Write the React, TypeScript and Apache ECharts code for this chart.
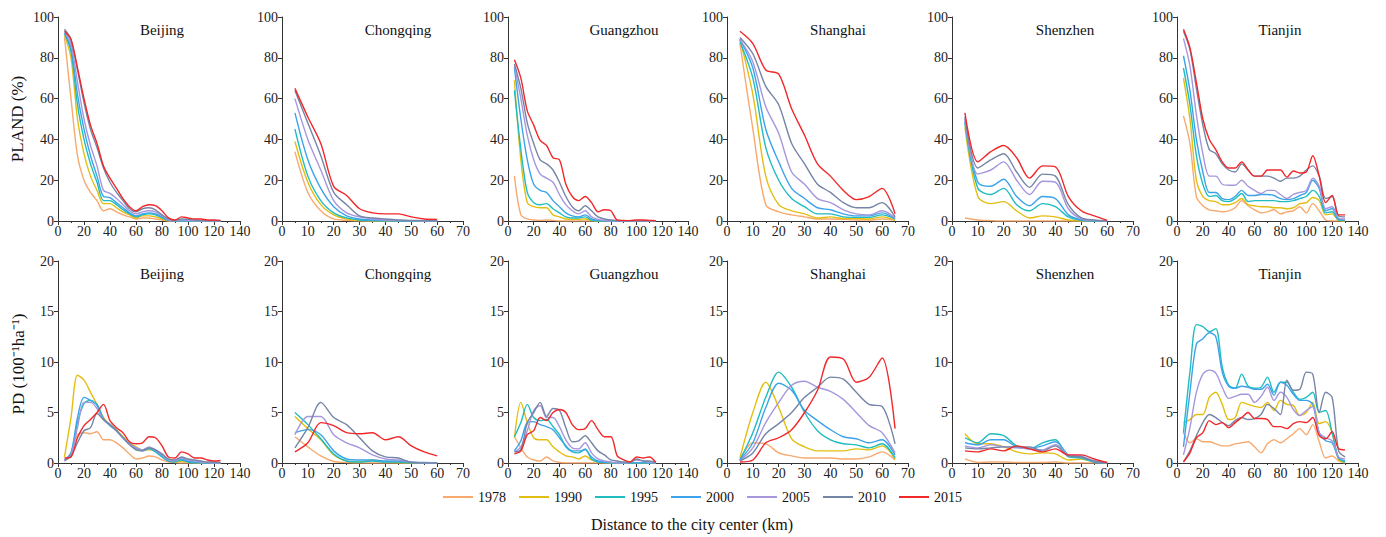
import React, { useEffect, useRef } from "react";
import * as echarts from "echarts";

const YEARS = ["1978", "1990", "1995", "2000", "2005", "2010", "2015"];
const COLORS = ["#F7A96E", "#E3BE12", "#1FBCC0", "#3CA3EA", "#A697DD", "#7585A5", "#F0282A"];
const CITIES = ["Beijing", "Chongqing", "Guangzhou", "Shanghai", "Shenzhen", "Tianjin"];
const X_MAX = [140, 70, 140, 70, 70, 140];
const X_INTERVAL = [20, 10, 20, 10, 10, 20];

const DIST_BEIJING = [5, 10, 15, 20, 25, 30, 35, 40, 45, 50, 55, 60, 65, 70, 75, 80, 85, 90, 95, 100, 105, 110, 115, 120, 125];
const DIST_CHONGQING = [5, 10, 15, 20, 25, 30, 35, 40, 45, 50, 55, 60];
const DIST_GUANGZHOU = [5, 10, 15, 20, 25, 30, 35, 40, 45, 50, 55, 60, 65, 70, 75, 80, 85, 90, 95, 100, 105, 110, 115];
const DIST_SHANGHAI = [5, 10, 15, 20, 25, 30, 35, 40, 45, 50, 55, 60, 65];
const DIST_SHENZHEN = [5, 10, 15, 20, 25, 30, 35, 40, 45, 50, 55, 60];
const DIST_TIANJIN = [5, 10, 15, 20, 25, 30, 35, 40, 45, 50, 55, 60, 65, 70, 75, 80, 85, 90, 95, 100, 105, 110, 115, 120, 125, 130];

// PLAND (%) — rows: 1978, 1990, 1995, 2000, 2005, 2010, 2015
const BEIJING_PLAND = [
  [90, 60, 32, 20, 14, 10, 5, 6, 4.5, 3, 2, 1, 1.5, 1.5, 1, 0.5, 0, 0, 0, 0, 0, 0, 0, 0, 0],
  [91, 80, 50, 33, 22, 15, 8.5, 8.5, 6.5, 4.5, 3, 1.5, 2.5, 2.5, 2, 1, 0.1, 0, 0, 0, 0, 0, 0, 0, 0],
  [92, 83, 57, 40, 28, 19, 10, 10, 8, 5.5, 3.5, 2, 3, 3.5, 3, 1.5, 0.2, 0, 0, 0, 0, 0, 0, 0, 0],
  [92, 85, 62, 45, 32, 22, 12, 11.5, 9, 6.5, 4, 2.5, 3.5, 4, 3.5, 2, 0.3, 0, 0, 0, 0, 0, 0, 0, 0],
  [93, 87, 68, 50, 37, 27, 15, 13.5, 11, 8, 5, 3.5, 4.5, 5, 4.5, 2.5, 0.5, 0.2, 0.5, 0.3, 0.1, 0, 0, 0, 0],
  [94, 89, 74, 58, 45, 36, 26, 19, 14, 10, 6, 4.5, 6, 6.5, 5.5, 3, 1, 0.3, 1, 0.8, 0.5, 0.3, 0.2, 0.1, 0],
  [93, 89, 75, 60, 47, 38, 27, 21, 16, 11, 7, 5, 7, 8, 7.5, 5, 1.5, 0.5, 2, 1.5, 1, 1, 0.5, 0.5, 0.3],
];
const CHONGQING_PLAND = [
  [34, 14, 5, 1, 0.3, 0, 0, 0, 0, 0, 0, 0],
  [39, 19, 8, 3, 1, 0.3, 0, 0, 0, 0, 0, 0],
  [45, 22, 10, 4, 1.5, 0.5, 0.2, 0, 0, 0, 0, 0],
  [53, 30, 16, 7, 2.5, 1, 0.5, 0.3, 0, 0, 0, 0],
  [60, 40, 25, 10, 4, 2, 1, 0.5, 0.3, 0.2, 0, 0],
  [64, 48, 32, 14, 8, 2.5, 1.5, 1, 0.5, 0.3, 0.2, 0],
  [65, 51, 38, 17, 12.5, 6, 4, 3.5, 3.5, 2, 1, 0.8],
];
const GUANGZHOU_PLAND = [
  [22, 3, 1, 0.5, 0.3, 0.5, 0.3, 0, 0, 0, 0, 0, 0, 0, 0, 0, 0, 0, 0, 0, 0, 0, 0],
  [69, 30, 9, 7, 6.5, 6.5, 3, 2, 1, 0.8, 0.8, 1, 0.3, 0, 0, 0, 0, 0, 0, 0, 0, 0, 0],
  [64, 35, 14, 9, 8, 8.5, 6, 4, 2, 1.5, 1.5, 2, 0.5, 0, 0, 0, 0, 0, 0, 0, 0, 0, 0],
  [75, 50, 30, 18, 15, 14, 10, 7, 4, 2.5, 2, 3, 1, 0.3, 0, 0, 0, 0, 0, 0, 0, 0, 0],
  [76, 60, 42, 30, 23, 21, 19, 13, 8, 5, 3.5, 5, 2, 0.8, 0.3, 0, 0, 0, 0, 0, 0, 0, 0],
  [77, 65, 48, 38, 30, 28, 25, 19, 12, 7, 5, 7.5, 5, 2, 1, 0.5, 0.2, 0, 0, 0, 0, 0, 0],
  [79, 70, 54, 47, 39.5, 37, 31, 30, 18, 12, 10, 12, 9, 4.5, 5.5, 5, 0.5, 0.3, 0.2, 0.5, 0.5, 0.3, 0.1],
];
const SHANGHAI_PLAND = [
  [87, 45, 8, 4.5, 3, 2, 1, 1, 0.8, 0.5, 0.5, 1, 0.3],
  [89, 62, 22, 8, 5, 3.5, 1.5, 2, 1.2, 1.2, 1, 2, 0.5],
  [88, 70, 36, 20, 11, 7, 3.5, 3.5, 2, 1.8, 1.8, 3, 1],
  [89, 75, 45, 29, 16, 11, 6.5, 5.5, 3.5, 2.5, 2.5, 4, 1],
  [89, 78, 56, 43, 24, 18, 11, 9, 5.5, 3.5, 3, 5, 1.5],
  [90, 82, 66, 57, 38, 28, 18, 14, 9, 6.5, 6.5, 9, 2],
  [93, 87, 74, 72, 55, 42, 28, 22, 15, 10.5, 12, 16, 3.5],
];
const SHENZHEN_PLAND = [
  [1.5, 0.5, 0.2, 0, 0, 0, 0, 0, 0, 0, 0, 0],
  [46, 12, 8.5, 9.5, 5, 1.5, 2.5, 2, 0.5, 0, 0, 0],
  [48, 16, 13, 16, 8, 5, 8.5, 7, 2, 0.3, 0, 0],
  [49, 19, 17, 20.5, 12, 7.5, 12, 11, 3, 0.5, 0, 0],
  [50, 23, 25, 29, 20, 13, 19.5, 19, 6, 1, 0.3, 0],
  [51, 26, 30, 33, 24, 16.5, 23, 22, 8, 1.5, 0.5, 0],
  [53, 29, 34, 37, 31, 21, 27, 26.5, 12, 5, 2.5, 0.3],
];
const TIANJIN_PLAND = [
  [51.5, 38, 12, 7.5, 5.5, 5, 4.5, 5, 6.5, 10, 7.5, 5.5, 4, 4.5, 5.5, 3.5, 4.5, 5, 7, 4, 8.5, 5, 0.5, 0, 0, 0],
  [70, 50, 20, 12, 10, 9.5, 8, 8, 9, 11, 8, 7.5, 7, 7, 6.5, 6.5, 6, 6.5, 8.5, 9, 11.5, 10, 3, 3.5, 0.3, 0],
  [75, 57, 32, 18, 12, 12.5, 10, 9.5, 11, 13.5, 9.5, 10, 10, 10, 10, 9.5, 9.5, 10, 11, 12, 15, 12, 4, 4.5, 0.5, 0.3],
  [81, 64, 40, 24, 14, 14, 11, 10.5, 12, 15, 12.5, 12.5, 13, 13, 12.5, 11, 10.5, 11, 12.5, 14, 20, 16, 5, 6, 1, 0.5],
  [89.5, 76, 52, 33, 22, 22, 18, 17.5, 17.5, 20, 17, 15, 13.5, 15, 15, 13, 11, 13, 14, 15, 21, 17, 6, 7, 1.5, 1],
  [93, 84, 65, 47, 35, 33, 28, 25, 24, 28, 25, 22, 22, 22, 21, 19.5, 21, 21, 22, 25, 27, 22, 11, 12, 2.5, 2],
  [94, 85, 68, 50, 40, 35, 29, 26, 26, 29, 25, 22, 22, 25, 25, 25, 21.5, 24.5, 23.5, 24, 32, 22, 9, 12.5, 3, 3],
];

// PD (100^-1 ha^-1)
const BEIJING_PD = [
  [0.3, 1, 2.8, 3, 2.9, 3.1, 2.3, 2.3, 2, 1.5, 0.9, 0.4, 0.5, 0.7, 0.6, 0.3, 0.1, 0.05, 0, 0, 0, 0, 0, 0, 0],
  [0.6, 4.5, 8.7, 8.2, 7, 5.8, 4.5, 3.8, 3.3, 2.6, 2, 1.6, 1.3, 1.3, 1.2, 0.8, 0.3, 0.1, 0.2, 0.1, 0.05, 0, 0, 0, 0],
  [0.3, 0.9, 4, 5.9, 6.2, 5.8, 4.4, 3.7, 3.2, 2.5, 1.9, 1.4, 1.2, 1.4, 1.1, 0.6, 0.2, 0.1, 0.3, 0.1, 0, 0, 0, 0, 0],
  [0.3, 1, 4.5, 6.5, 6.2, 5.7, 4.3, 3.8, 3.2, 2.5, 1.9, 1.5, 1.3, 1.5, 1.2, 0.7, 0.3, 0.2, 0.4, 0.2, 0.1, 0.05, 0, 0, 0],
  [0.3, 0.8, 3.5, 6, 6, 5.4, 4.3, 3.8, 3.2, 2.5, 1.9, 1.5, 1.3, 1.6, 1.3, 0.8, 0.3, 0.2, 0.5, 0.3, 0.2, 0.1, 0.05, 0, 0],
  [0.2, 0.7, 2, 3.2, 3.5, 4.9, 4.3, 3.8, 3.2, 2.5, 1.8, 1.3, 1.2, 1.5, 1.3, 0.9, 0.4, 0.3, 0.6, 0.4, 0.3, 0.2, 0.1, 0.1, 0.05],
  [0.5, 0.6, 2.5, 3.7, 4.3, 5, 5.8, 4.2, 3.5, 3, 2.1, 1.9, 2, 2.6, 2.5, 1.7, 0.6, 0.5, 1.1, 0.9, 0.5, 0.5, 0.3, 0.2, 0.25],
];
const CHONGQING_PD = [
  [2.6, 1.6, 0.7, 0.15, 0.05, 0, 0, 0, 0, 0, 0, 0],
  [4.6, 3.4, 2.3, 0.8, 0.2, 0.1, 0.3, 0.1, 0.05, 0, 0, 0],
  [5, 3.8, 2.4, 0.9, 0.2, 0.1, 0.2, 0.1, 0.1, 0, 0, 0],
  [3, 3.3, 2.8, 1.2, 0.4, 0.3, 0.3, 0.2, 0.2, 0.1, 0.05, 0],
  [2.8, 4.6, 4.6, 2.8, 2, 1.5, 0.8, 0.4, 0.3, 0.1, 0, 0],
  [1.5, 3.5, 6, 4.5, 3.8, 2.5, 1.2, 0.6, 0.5, 0.05, 0, 0],
  [1.1, 2, 4, 3.7, 3, 2.9, 3, 2.3, 2.6, 1.7, 1.1, 0.7],
];
const GUANGZHOU_PD = [
  [2.6, 1.5, 0.6, 0.3, 0.2, 0.6, 0.2, 0.05, 0, 0, 0, 0, 0, 0, 0, 0, 0, 0, 0, 0, 0, 0, 0],
  [2.5, 6, 4, 2.5, 2.3, 2.3, 1.6, 1.1, 0.7, 0.6, 0.4, 0.7, 0.3, 0.1, 0.05, 0, 0, 0, 0, 0, 0, 0, 0],
  [2.6, 4, 5.8, 4.5, 4.2, 4.3, 3.6, 2.8, 1.6, 1.1, 1, 1.4, 0.4, 0.1, 0.05, 0, 0, 0, 0, 0, 0, 0, 0],
  [1.2, 2.2, 4, 4.1, 3.8, 3.6, 3.3, 2.5, 1.7, 1.2, 1.2, 1.3, 0.6, 0.2, 0.1, 0.05, 0, 0, 0, 0, 0, 0, 0],
  [1.1, 1.6, 3.2, 5.2, 5.7, 4.5, 4.5, 3.6, 2.3, 1.5, 1.4, 2, 1, 0.4, 0.2, 0.1, 0, 0, 0.1, 0.3, 0.2, 0.1, 0],
  [1.1, 1.3, 4, 5, 6, 4.6, 5.4, 5.2, 3.5, 2.1, 2.2, 2.7, 2, 1.2, 0.8, 0.3, 0.2, 0.1, 0.1, 0.4, 0.2, 0.2, 0.05],
  [0.9, 1.2, 2.8, 3.2, 4.5, 4.2, 5, 5.3, 5, 3.8, 3.3, 3.4, 4.2, 3.3, 2.6, 2.6, 0.7, 0.3, 0.1, 0.6, 0.5, 0.6, 0.05],
];
const SHANGHAI_PD = [
  [0.3, 2, 1.9, 1, 0.7, 0.5, 0.5, 0.5, 0.4, 0.4, 0.6, 1.1, 0.3],
  [0.5, 5, 8, 5.5, 2.4, 1.6, 1.2, 1.2, 1.2, 1.4, 1.3, 1.7, 0.4],
  [0.3, 3, 6.5, 9, 7.5, 5, 3.2, 2.3, 1.9, 1.8, 1.5, 1.9, 0.5],
  [0.3, 2, 5.5, 7.9, 7.2, 5.2, 4.2, 3.3, 2.6, 2.4, 2, 2.3, 0.8],
  [0.2, 1.5, 4, 6, 7.7, 8.1, 7.5, 7.1, 6.3, 5, 3.7, 3, 1],
  [0.2, 1, 2.9, 3.9, 5, 6.5, 7.5, 8.5, 8.3, 7, 5.8, 5.6, 1.9],
  [0.1, 0.3, 2, 2.5, 3.3, 5, 7.2, 10.5, 10.3, 8, 8.5, 10.4, 3.4],
];
const SHENZHEN_PD = [
  [0.4, 0.05, 0.1, 0.1, 0.05, 0.05, 0.05, 0.1, 0, 0, 0, 0],
  [2.9, 1.9, 1.9, 1.6, 1.1, 0.9, 1, 0.9, 0.3, 0.4, 0.1, 0],
  [2.5, 2, 2.9, 2.7, 1.7, 1.4, 2, 2.3, 0.6, 0.5, 0.1, 0],
  [2, 1.8, 2.3, 2.3, 1.6, 1.5, 1.7, 2.1, 0.8, 0.6, 0.1, 0],
  [1.7, 1.5, 1.8, 1.6, 1.5, 1.4, 1.3, 1.8, 0.8, 0.7, 0.2, 0],
  [1.5, 1.4, 1.5, 1.6, 1.6, 1.6, 1.2, 1.7, 0.7, 0.6, 0.2, 0],
  [1.2, 1.1, 1.4, 1.2, 1.7, 1.4, 1.1, 1.4, 0.8, 0.8, 0.4, 0.05],
];
const TIANJIN_PD = [
  [3, 2, 2.4, 2.1, 2.1, 1.9, 1.7, 1.7, 1.9, 2, 2.1, 1.6, 1, 1.9, 2.3, 2, 2.4, 2.9, 3.4, 2.8, 3.8, 2.1, 0.5, 0.7, 0.2, 0],
  [4, 4.3, 4.8, 4.8, 6.5, 7, 5.8, 4.3, 4.5, 6, 5.8, 5.6, 5.5, 6, 5.2, 6.2, 5.8, 5.7, 4.7, 5, 6, 3.9, 4.1, 3, 0.3, 0.1],
  [3, 9, 13.7, 13.5, 13, 13.3, 9.5, 7.7, 7.4, 8.8, 7.6, 7.4, 7.5, 8.5, 7, 8, 8, 7, 6.3, 6.5, 7, 5, 5.2, 3, 0.5, 0.1],
  [1.6, 7, 11.8, 12.3, 12.9, 12.5, 9, 7.6, 7.4, 7.6, 7.5, 7.3, 7.3, 7.8, 6.7, 8, 7.7, 6.8, 6.2, 6.2, 5.8, 3, 2.2, 2, 0.5, 0.2],
  [0.8, 3.5, 7, 8.8, 9.2, 8.9, 7.5, 6.4, 6.6, 6.8, 6.8, 6, 6.6, 7.5, 6.2, 7, 6.5, 5.3, 4.7, 5.2, 5.6, 3, 2.5, 2.2, 0.6, 0.4],
  [0.1, 1.2, 2.7, 4, 4.8, 4.5, 4, 3.7, 4.2, 4.5, 4.3, 4.4, 4.8, 5.8, 5.4, 4.8, 8.2, 7.2, 7.3, 9, 8.8, 5, 7, 6.5, 1.2, 0.6],
  [0.1, 1, 2.5, 3, 4.2, 3.8, 4, 3.5, 4, 4.5, 5, 4.4, 4.4, 4.3, 3.6, 3.6, 3.4, 3.9, 4.1, 4, 4.5, 2.7, 2.4, 3.1, 1.4, 1.3],
];

const DISTS = [DIST_BEIJING, DIST_CHONGQING, DIST_GUANGZHOU, DIST_SHANGHAI, DIST_SHENZHEN, DIST_TIANJIN];
const PLAND = [BEIJING_PLAND, CHONGQING_PLAND, GUANGZHOU_PLAND, SHANGHAI_PLAND, SHENZHEN_PLAND, TIANJIN_PLAND];
const PD = [BEIJING_PD, CHONGQING_PD, GUANGZHOU_PD, SHANGHAI_PD, SHENZHEN_PD, TIANJIN_PD];

const GRID_LEFT = [58, 282, 508, 727, 952, 1177];
const GRID_WIDTH = [182, 181, 180, 181, 181, 181];
const TITLE_OFFSET = [104, 116, 116, 111, 113, 103];
const FONT = "'Liberation Serif', 'Times New Roman', serif";

export default function App() {
  const ref = useRef<HTMLDivElement>(null);
  useEffect(() => {
    document.body.style.margin = "0";
    if (!ref.current) return;
    const chart = echarts.init(ref.current, null, { renderer: "svg" });
    const grids: any[] = [];
    const xAxes: any[] = [];
    const yAxes: any[] = [];
    const series: any[] = [];
    const graphics: any[] = [];
    const rows = [
      { data: PLAND, top: 17, height: 204, max: 100, interval: 20, titleY: 30 },
      { data: PD, top: 261, height: 202, max: 20, interval: 5, titleY: 274 },
    ];
    const textStyle = (size: number) => ({
      fontFamily: FONT,
      fontSize: size,
      fontWeight: "normal",
      fill: "#111",
      textAlign: "center",
      textVerticalAlign: "middle",
    });
    rows.forEach((row, r) => {
      CITIES.forEach((city, c) => {
        const idx = r * 6 + c;
        grids.push({ left: GRID_LEFT[c], top: row.top, width: GRID_WIDTH[c], height: row.height });
        const axisCommon = {
          axisLine: { show: true, lineStyle: { color: "#333", width: 1 } },
          axisTick: { show: true, length: 4, lineStyle: { color: "#333" } },
          splitLine: { show: false },
          axisLabel: { fontFamily: FONT, fontSize: 14, color: "#222", margin: 4 },
        };
        xAxes.push({
          type: "value",
          gridIndex: idx,
          min: 0,
          max: X_MAX[c],
          interval: X_INTERVAL[c],
          ...axisCommon,
          minorTick: { show: true, splitNumber: 2, length: 2, lineStyle: { color: "#333" } },
          axisLabel: { ...axisCommon.axisLabel, showMaxLabel: true, margin: 3 },
        });
        yAxes.push({
          type: "value",
          gridIndex: idx,
          min: 0,
          max: row.max,
          interval: row.interval,
          ...axisCommon,
        });
        YEARS.forEach((year, k) => {
          series.push({
            name: year,
            type: "line",
            xAxisIndex: idx,
            yAxisIndex: idx,
            data: DISTS[c].map((d, j) => [d, row.data[c][k][j]]),
            showSymbol: false,
            smooth: 0.3,
            lineStyle: { width: 1.4, color: COLORS[k] },
            itemStyle: { color: COLORS[k] },
          });
        });
        graphics.push({
          type: "text",
          x: GRID_LEFT[c] + TITLE_OFFSET[c],
          y: row.titleY,
          style: { text: city, ...textStyle(15) },
        });
      });
    });
    graphics.push({
      type: "text",
      x: 17,
      y: 119,
      rotation: Math.PI / 2,
      style: { text: "PLAND (%)", ...textStyle(17) },
    });
    graphics.push({
      type: "text",
      x: 18,
      y: 364,
      rotation: Math.PI / 2,
      style: { text: "PD (100⁻¹ha⁻¹)", ...textStyle(17) },
    });
    graphics.push({
      type: "text",
      x: 692,
      y: 524,
      style: { text: "Distance to the city center (km)", ...textStyle(16) },
    });
    chart.setOption({
      animation: false,
      backgroundColor: "#fff",
      grid: grids,
      xAxis: xAxes,
      yAxis: yAxes,
      series,
      legend: {
        data: YEARS,
        top: 485,
        left: 438,
        icon: "rect",
        itemWidth: 30,
        itemHeight: 2,
        itemGap: 13,
        textStyle: { fontFamily: FONT, fontSize: 14, color: "#111" },
      },
      graphic: graphics,
    });
    return () => chart.dispose();
  }, []);
  return <div ref={ref} style={{ width: 1386, height: 537 }} />;
}
